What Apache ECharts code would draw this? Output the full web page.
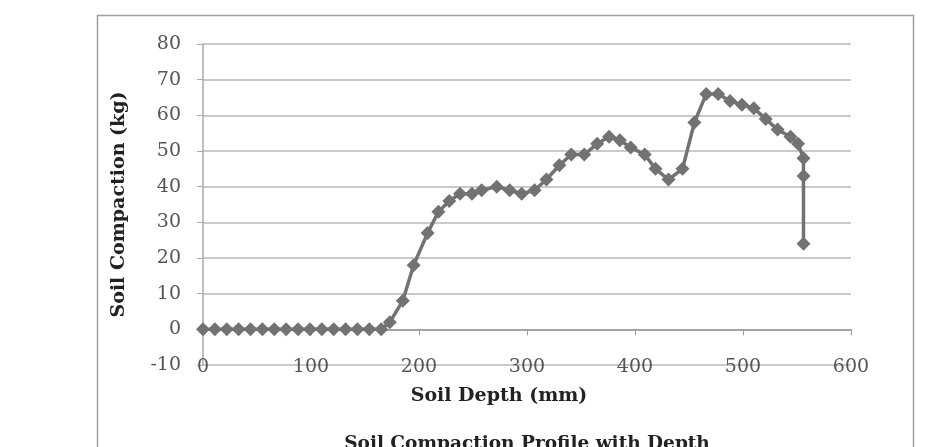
<!DOCTYPE html>
<html>
<head>
<meta charset="utf-8">
<script src="https://cdn.jsdelivr.net/npm/echarts@6/dist/echarts.min.js"></script>
<style>
  html, body { margin: 0; padding: 0; background: #fff; }
  #soilChart { width: 937px; height: 447px; }
</style>
</head>
<body>
<div id="soilChart"></div>
<script>
// soil compaction profile - depth (mm) vs compaction (kg)
var depthMm = [0, 11, 22, 33, 44, 55, 66, 77, 88, 99, 110, 121, 132, 143, 154, 165,
  173, 185, 195, 208, 218, 228, 238, 249, 258, 272, 284, 295, 307, 318,
  330, 341, 353, 365, 376, 386, 396, 409, 419, 431, 444, 455, 466, 477,
  488, 499, 510, 521, 532, 544, 551, 556, 556, 556];
var compactionKg = [0, 0, 0, 0, 0, 0, 0, 0, 0, 0, 0, 0, 0, 0, 0, 0,
  2, 8, 18, 27, 33, 36, 38, 38, 39, 40, 39, 38, 39, 42,
  46, 49, 49, 52, 54, 53, 51, 49, 45, 42, 45, 58, 66, 66,
  64, 63, 62, 59, 56, 54, 52, 48, 43, 24];
var xTicks = [0, 100, 200, 300, 400, 500, 600];
var yTicks = [-10, 0, 10, 20, 30, 40, 50, 60, 70, 80];

var points = depthMm.map(function (d, i) { return [d, compactionKg[i]]; });

var myChart = echarts.init(document.getElementById('soilChart'));
var labelFont = { fontFamily: 'DejaVu Serif', fontSize: 19, color: '#555' };
var nameFont = { fontFamily: 'DejaVu Serif', fontSize: 19, fontWeight: 'bold', color: '#222' };

option = {
  animation: false,
  backgroundColor: '#fff',
  title: {
    text: 'Soil Compaction Profile with Depth',
    left: 522,
    top: 430,
    textAlign: 'center',
    textStyle: { fontFamily: 'DejaVu Serif', fontSize: 18.5, fontWeight: 'bold', color: '#222' }
  },
  graphic: [{
    type: 'rect',
    shape: { x: 97.5, y: 15.5, width: 816, height: 460 },
    style: { fill: null, stroke: '#a0a0a0', lineWidth: 1.5 },
    z: -1
  }],
  grid: { left: 203, right: 86, top: 44, bottom: 82 },
  xAxis: {
    type: 'value',
    min: xTicks[0],
    max: xTicks[xTicks.length - 1],
    interval: 100,
    name: 'Soil Depth (mm)',
    nameLocation: 'middle',
    nameGap: 22,
    nameTextStyle: Object.assign({ padding: [0, 56, 0, 0] }, nameFont),
    axisLine: { onZero: true, lineStyle: { color: '#999', width: 1.5 } },
    axisTick: { show: true, inside: false, length: 6, lineStyle: { color: '#999' } },
    axisLabel: Object.assign({ margin: -7 }, labelFont),
    splitLine: { show: false }
  },
  yAxis: {
    type: 'value',
    min: yTicks[0],
    max: yTicks[yTicks.length - 1],
    interval: 10,
    name: 'Soil Compaction (kg)',
    nameLocation: 'middle',
    nameGap: 74,
    nameTextStyle: nameFont,
    axisLine: { show: true, lineStyle: { color: '#aaa', width: 1.5 } },
    axisTick: { show: true, length: 6, lineStyle: { color: '#aaa' } },
    axisLabel: Object.assign({ margin: 22 }, labelFont),
    splitLine: { show: true, lineStyle: { color: '#b8b8b8', width: 1.5 } }
  },
  series: [{
    name: 'Soil Compaction',
    type: 'line',
    data: points,
    symbol: 'diamond',
    symbolSize: 14,
    lineStyle: { color: '#727272', width: 3.5 },
    itemStyle: { color: '#727272' }
  }]
};
myChart.setOption(option, true);
</script>
</body>
</html>
